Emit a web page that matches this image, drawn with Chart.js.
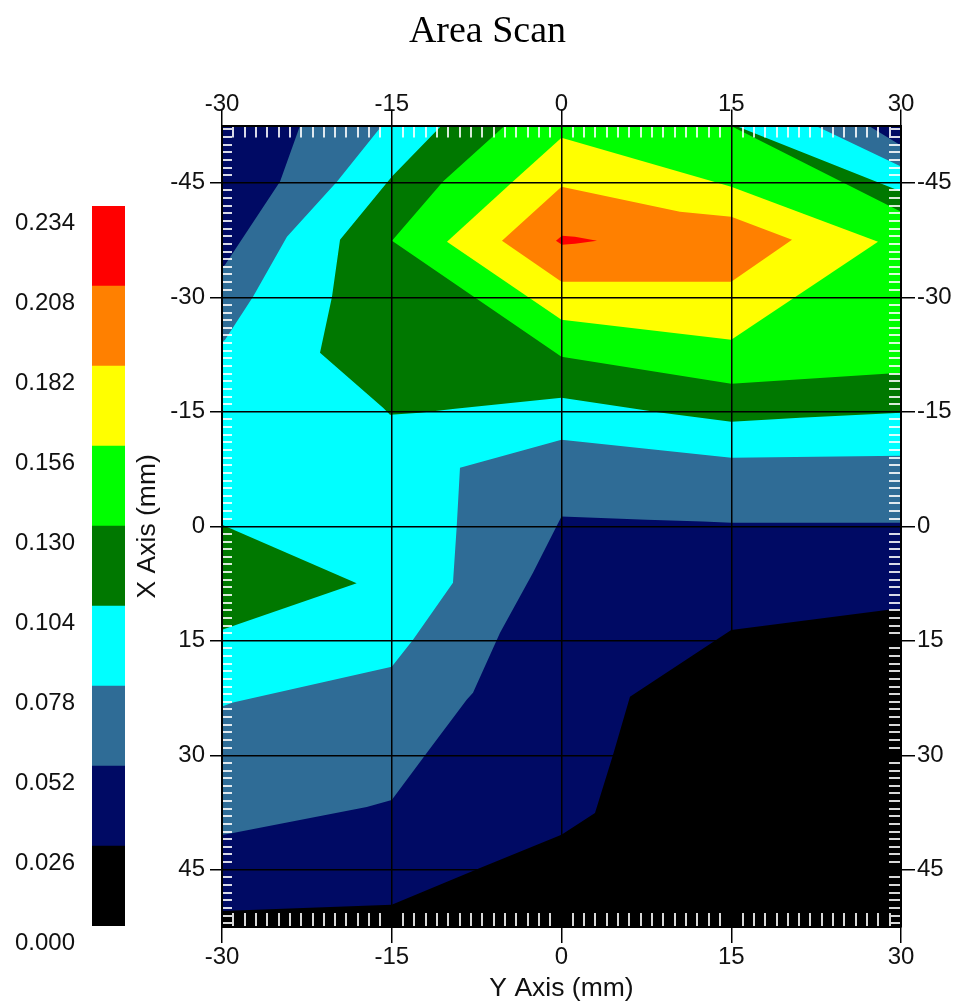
<!DOCTYPE html>
<html>
<head>
<meta charset="utf-8">
<title>Area Scan</title>
<script src="https://cdn.jsdelivr.net/npm/chart.js@4.4.1/dist/chart.umd.min.js"></script>
<style>
  html, body { margin: 0; padding: 0; background: #fff; }
  #wrap { position: relative; width: 955px; height: 1006px; }
  #scan { position: absolute; left: 0; top: 0; }
  #scale { position: absolute; left: 0; top: 174px; }
</style>
</head>
<body>
<div id="wrap">
  <canvas id="scan" width="955" height="1006"></canvas>
  <canvas id="scale" width="130" height="790"></canvas>
</div>
<script>
// colour scale: band i covers levels[i] .. levels[i + 1]
const levels = [0.000, 0.026, 0.052, 0.078, 0.104, 0.130, 0.156, 0.182, 0.208, 0.234];
const bandColors = ["#000000", "#000a64", "#2f6c96", "#00ffff", "#007800", "#00ff00", "#ffff00", "#ff8000", "#ff0000"];

// axis ticks, mm
const yAxisTicks = [-30, -15, 0, 15, 30];
const xAxisTicks = [-45, -30, -15, 0, 15, 30, 45];
const yAxisRange = [-30, 30];
const xAxisRange = [-52.5, 52.5];
const minorStep = 1;

// contour regions where the reading is >= a level, as [Y mm, X mm] vertices
const above026 = [[-30, -52.5], [30, -52.5], [30, 10.8], [28.9, 10.95], [15, 13.6], [6.05, 22.34], [4.55, 29.95],
  [2.96, 37.56], [0, 40.4], [-7.2, 44.76], [-15, 49.6], [-30, 50.4]];
const above052 = [[-23.1, -52.5], [27.1, -52.5], [30, -49.9], [30, -0.46], [15, -0.46], [12.5, -0.63], [7.53, -0.85],
  [0, -1.28], [-2.52, 6.1], [-5.43, 13.96], [-7.82, 21.82], [-8.38, 22.74], [-11.91, 29.69], [-15, 35.85],
  [-17.21, 36.77], [-29.03, 40.18], [-30, 40.44], [-30, -33.88], [-29.73, -34.28], [-24.87, -45.16]];
const above078 = [[-15.86, -52.5], [22.4, -52.5], [30, -47.13], [30, -9.24], [15, -8.98], [0, -11.34], [-8.97, -7.67],
  [-9.26, 0.07], [-9.59, 7.41], [-13.12, 14.88], [-15, 18.4], [-29.03, 23.1], [-30, 23.6], [-30, -24.05],
  [-29.73, -24.45], [-27.26, -30.08], [-24.26, -37.95], [-19.83, -45.16]];
const above104 = [[-10.6, -52.5], [15.33, -52.5], [30, -43.85], [30, -14.88], [21.07, -14.22], [15, -13.7],
  [8.7, -14.9], [0, -16.84], [-9.41, -15.4], [-12.5, -14.88], [-15.15, -14.62], [-15.77, -15.53],
  [-21.34, -22.74], [-20.28, -30.08], [-19.57, -37.56], [-14.98, -45.82]];
const above104Edge = [[-30, -0.2], [-18.1, 7.45], [-30, 13.57]];
const above130 = [[-4.99, -52.5], [14.9, -52.5], [30, -41.22], [30, -20.12], [15, -18.68], [0, -22.22],
  [-14.98, -37.42], [-10.47, -45.16]];
const above156 = [[0, -50.9], [15, -44.5], [27.97, -37.29], [15, -24.45], [0, -27.07], [-10.12, -37.29], [-4.29, -45.16]];
const above182 = [[-5.26, -37.42], [0, -44.5], [10.47, -41.22], [15, -40.57], [20.37, -37.56], [15, -32.05], [0, -32.05]];
const above208 = [[-0.49, -37.42], [0.04, -38.08], [1.19, -37.95], [3.14, -37.42], [1.19, -37.03], [0.04, -36.9]];

const regions = [
  { level: 1, shape: above026 },
  { level: 2, shape: above052 },
  { level: 3, shape: above078 },
  { level: 4, shape: above104 },
  { level: 4, shape: above104Edge },
  { level: 5, shape: above130 },
  { level: 6, shape: above156 },
  { level: 7, shape: above182 },
  { level: 8, shape: above208 },
];

const tickFont = { family: "'Liberation Sans', Arial, sans-serif", size: 24 };
const titleFont = { family: "'Liberation Sans', Arial, sans-serif", size: 26.5 };
const inkColor = "#111";

function fixedTicks(values) {
  return (scale) => { scale.ticks = values.map((v) => ({ value: v })); };
}
function fixedSize(key, px) {
  return (scale) => { scale[key] = px; };
}

// lowest band fills the plot before the contour regions
const plotBackground = {
  id: "plotBackground",
  beforeDatasetsDraw(chart) {
    const { ctx, chartArea: a } = chart;
    ctx.save();
    ctx.fillStyle = bandColors[0];
    ctx.fillRect(a.left, a.top, a.width, a.height);
    ctx.restore();
  },
};

// white 1 mm ticks inside the frame
const minorTicks = {
  id: "minorTicks",
  afterDatasetsDraw(chart) {
    const { ctx, chartArea: a } = chart;
    const sx = chart.scales.x;
    const sy = chart.scales.y;
    const len = 12;
    ctx.save();
    ctx.strokeStyle = "rgba(255,255,255,0.85)";
    ctx.lineWidth = 2;
    ctx.beginPath();
    for (let v = Math.ceil(yAxisRange[0]); v <= yAxisRange[1]; v += minorStep) {
      if (yAxisTicks.includes(v)) continue;
      const px = Math.round(sx.getPixelForValue(v));
      ctx.moveTo(px, a.top);
      ctx.lineTo(px, a.top + len);
      ctx.moveTo(px, a.bottom);
      ctx.lineTo(px, a.bottom - len - 2);
    }
    for (let v = Math.ceil(xAxisRange[0]); v <= xAxisRange[1]; v += minorStep) {
      if (xAxisTicks.includes(v)) continue;
      const py = Math.round(sy.getPixelForValue(v));
      ctx.moveTo(a.left, py);
      ctx.lineTo(a.left + len - 2, py);
      ctx.moveTo(a.right, py);
      ctx.lineTo(a.right - len, py);
    }
    ctx.stroke();
    ctx.restore();
  },
};

const frameGrid = { color: "#000", lineWidth: 1.5, z: 1 };
const frameBorder = { color: "#000", width: 2, z: 1 };

new Chart(document.getElementById("scan"), {
  type: "scatter",
  data: {
    datasets: regions.map((r) => ({
      data: r.shape.map(([y, x]) => ({ x: y, y: x })),
      showLine: true,
      fill: "shape",
      backgroundColor: bandColors[r.level],
      borderWidth: 0,
      pointRadius: 0,
      tension: 0,
      order: -r.level,
    })),
  },
  plugins: [plotBackground, minorTicks],
  options: {
    responsive: false,
    animation: false,
    devicePixelRatio: 1,
    events: [],
    layout: { padding: { top: 0, left: 20, right: 0, bottom: 0 } },
    plugins: {
      legend: { display: false },
      tooltip: { enabled: false },
      title: {
        display: true,
        text: "Area Scan",
        color: "#000",
        font: { family: "'Liberation Serif', 'Times New Roman', serif", size: 38, weight: "normal" },
        padding: { top: 9, bottom: 8 },
      },
    },
    scales: {
      x: {
        type: "linear",
        position: "bottom",
        min: yAxisRange[0],
        max: yAxisRange[1],
        afterBuildTicks: fixedTicks(yAxisTicks),
        afterFit: fixedSize("height", 79),
        grid: { ...frameGrid, tickLength: 16 },
        border: frameBorder,
        ticks: { font: tickFont, color: inkColor, padding: 0, maxRotation: 0, autoSkip: false },
        title: { display: true, text: "Y Axis (mm)", font: titleFont, color: inkColor, padding: { top: 0, bottom: 1 } },
      },
      x2: {
        type: "linear",
        axis: "x",
        position: "top",
        min: yAxisRange[0],
        max: yAxisRange[1],
        afterBuildTicks: fixedTicks(yAxisTicks),
        afterFit: fixedSize("height", 63),
        grid: { ...frameGrid, drawOnChartArea: false, tickLength: 16 },
        border: frameBorder,
        ticks: { font: tickFont, color: inkColor, padding: -9, maxRotation: 0, autoSkip: false },
      },
      y: {
        type: "linear",
        position: "left",
        reverse: true,
        min: xAxisRange[0],
        max: xAxisRange[1],
        afterBuildTicks: fixedTicks(xAxisTicks),
        afterFit: fixedSize("width", 202),
        grid: { ...frameGrid, tickLength: 12 },
        border: frameBorder,
        ticks: { font: tickFont, color: inkColor, padding: 5, autoSkip: false },
        title: { display: true, text: "X Axis (mm)", font: titleFont, color: inkColor, padding: { top: 112, bottom: 0 } },
      },
      y2: {
        type: "linear",
        axis: "y",
        position: "right",
        reverse: true,
        min: xAxisRange[0],
        max: xAxisRange[1],
        afterBuildTicks: fixedTicks(xAxisTicks),
        afterFit: fixedSize("width", 54),
        grid: { ...frameGrid, drawOnChartArea: false, tickLength: 14 },
        border: frameBorder,
        ticks: { font: tickFont, color: inkColor, padding: 2, autoSkip: false },
      },
    },
  },
});

// colour scale bar
new Chart(document.getElementById("scale"), {
  type: "bar",
  data: {
    labels: [""],
    datasets: bandColors.map((c, i) => ({
      data: [[levels[i], levels[i + 1]]],
      backgroundColor: c,
      borderWidth: 0,
      barPercentage: 1,
      categoryPercentage: 1,
      grouped: false,
    })),
  },
  options: {
    responsive: false,
    animation: false,
    devicePixelRatio: 1,
    events: [],
    layout: { padding: { top: 32, bottom: 38, left: 0, right: 5 } },
    plugins: { legend: { display: false }, tooltip: { enabled: false } },
    scales: {
      x: { display: false },
      y: {
        min: levels[0],
        max: levels[levels.length - 1],
        afterBuildTicks: fixedTicks(levels),
        afterFit: fixedSize("width", 92),
        grid: { display: false, drawTicks: false },
        border: { display: false },
        ticks: {
          font: tickFont,
          color: inkColor,
          padding: 17,
          labelOffset: 17,
          autoSkip: false,
          callback: (v) => Number(v).toFixed(3),
        },
      },
    },
  },
});
</script>
</body>
</html>
